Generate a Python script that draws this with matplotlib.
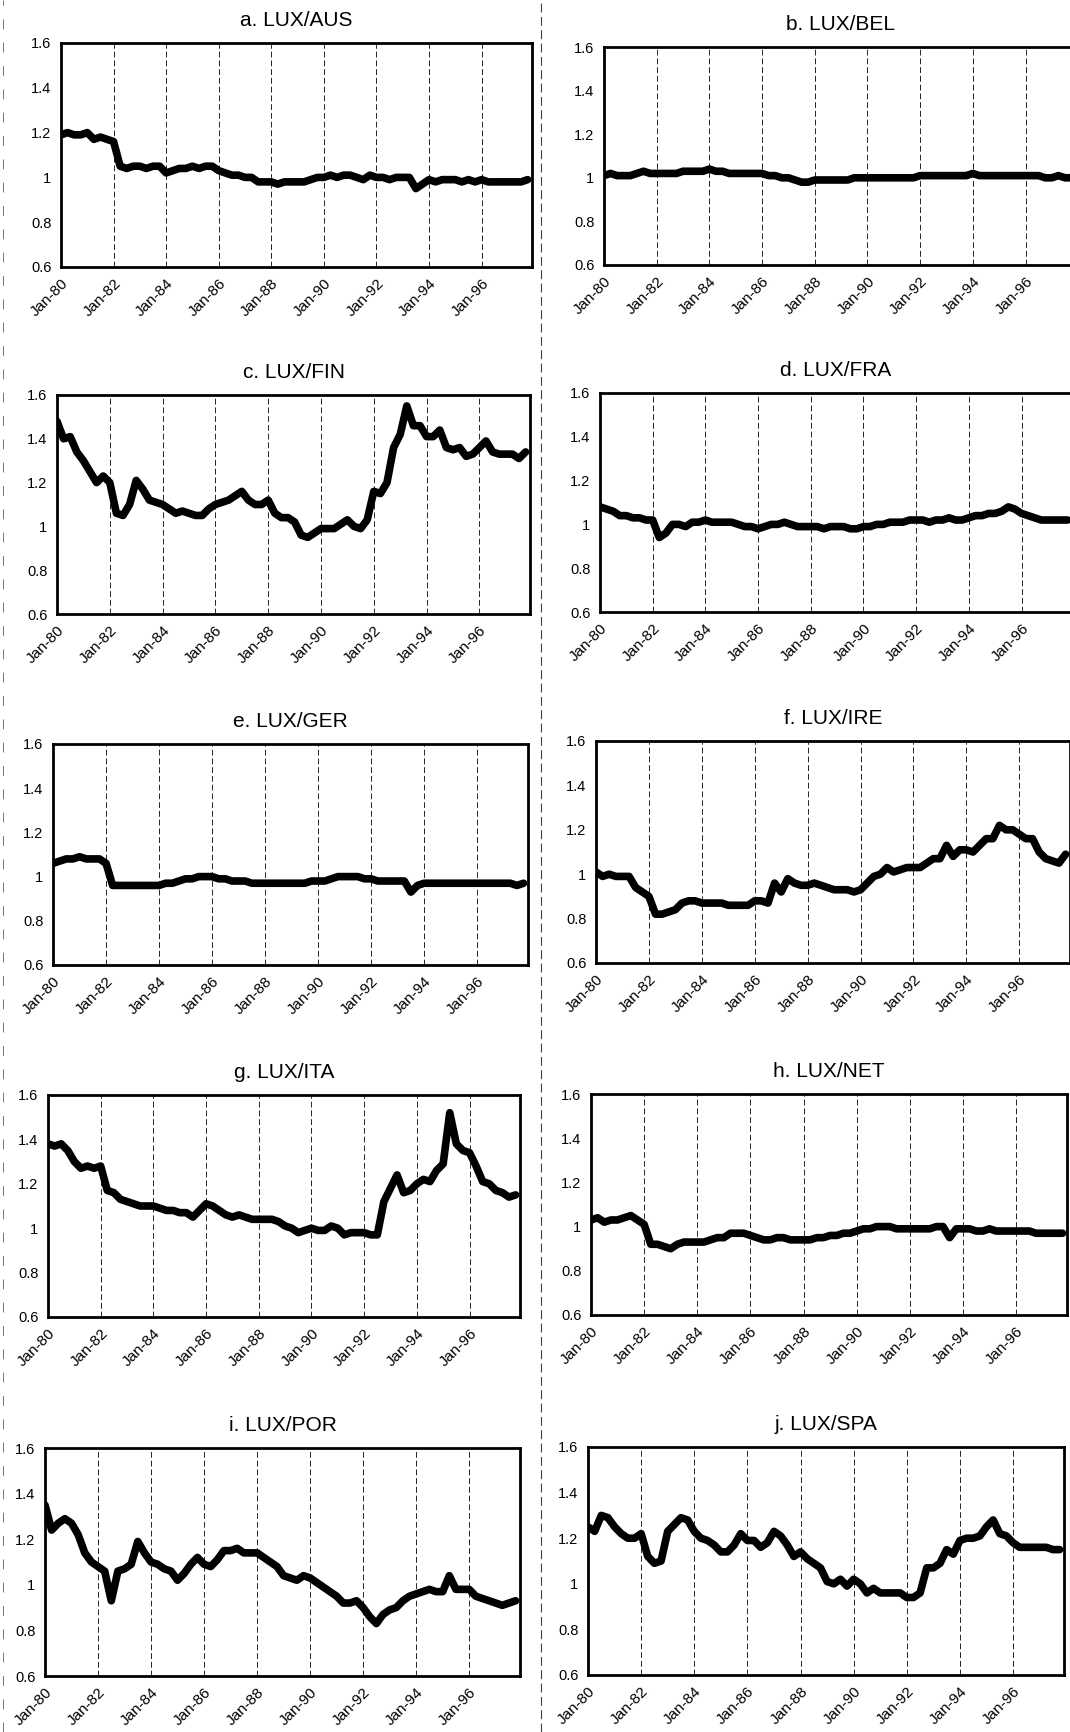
import matplotlib.pyplot as plt
import numpy as np
from matplotlib.lines import Line2D

plt.rcParams['font.family'] = ['Liberation Sans', 'DejaVu Sans']

# quarterly readings, months counted from Jan-80
months = np.arange(0, 216, 3)

tick_months = [0, 24, 48, 72, 96, 120, 144, 168, 192]
tick_labels = ['Jan-80', 'Jan-82', 'Jan-84', 'Jan-86', 'Jan-88',
               'Jan-90', 'Jan-92', 'Jan-94', 'Jan-96']
ytick_vals = [0.6, 0.8, 1.0, 1.2, 1.4, 1.6]
ytick_labels = ['0.6', '0.8', '1', '1.2', '1.4', '1.6']

titles = ['a. LUX/AUS', 'b. LUX/BEL', 'c. LUX/FIN', 'd. LUX/FRA', 'e. LUX/GER',
          'f. LUX/IRE', 'g. LUX/ITA', 'h. LUX/NET', 'i. LUX/POR', 'j. LUX/SPA']

aus = [1.19, 1.20, 1.19, 1.19,  1.20, 1.17, 1.18, 1.17,  1.16, 1.05, 1.04, 1.05,
       1.05, 1.04, 1.05, 1.05,  1.02, 1.03, 1.04, 1.04,  1.05, 1.04, 1.05, 1.05,
       1.03, 1.02, 1.01, 1.01,  1.00, 1.00, 0.98, 0.98,  0.98, 0.97, 0.98, 0.98,
       0.98, 0.98, 0.99, 1.00,  1.00, 1.01, 1.00, 1.01,  1.01, 1.00, 0.99, 1.01,
       1.00, 1.00, 0.99, 1.00,  1.00, 1.00, 0.95, 0.97,  0.99, 0.98, 0.99, 0.99,
       0.99, 0.98, 0.99, 0.98,  0.99, 0.98, 0.98, 0.98,  0.98, 0.98, 0.98, 0.99]

bel = [1.01, 1.02, 1.01, 1.01,  1.01, 1.02, 1.03, 1.02,  1.02, 1.02, 1.02, 1.02,
       1.03, 1.03, 1.03, 1.03,  1.04, 1.03, 1.03, 1.02,  1.02, 1.02, 1.02, 1.02,
       1.02, 1.01, 1.01, 1.00,  1.00, 0.99, 0.98, 0.98,  0.99, 0.99, 0.99, 0.99,
       0.99, 0.99, 1.00, 1.00,  1.00, 1.00, 1.00, 1.00,  1.00, 1.00, 1.00, 1.00,
       1.01, 1.01, 1.01, 1.01,  1.01, 1.01, 1.01, 1.01,  1.02, 1.01, 1.01, 1.01,
       1.01, 1.01, 1.01, 1.01,  1.01, 1.01, 1.01, 1.00,  1.00, 1.01, 1.00, 1.00]

fin = [1.48, 1.40, 1.41, 1.34,  1.30, 1.25, 1.20, 1.23,  1.20, 1.06, 1.05, 1.10,
       1.21, 1.17, 1.12, 1.11,  1.10, 1.08, 1.06, 1.07,  1.06, 1.05, 1.05, 1.08,
       1.10, 1.11, 1.12, 1.14,  1.16, 1.12, 1.10, 1.10,  1.12, 1.06, 1.04, 1.04,
       1.02, 0.96, 0.95, 0.97,  0.99, 0.99, 0.99, 1.01,  1.03, 1.00, 0.99, 1.03,
       1.16, 1.15, 1.20, 1.36,  1.42, 1.55, 1.46, 1.46,  1.41, 1.41, 1.44, 1.36,
       1.35, 1.36, 1.32, 1.33,  1.36, 1.39, 1.34, 1.33,  1.33, 1.33, 1.31, 1.34]

fra = [1.08, 1.07, 1.06, 1.04,  1.04, 1.03, 1.03, 1.02,  1.02, 0.94, 0.96, 1.00,
       1.00, 0.99, 1.01, 1.01,  1.02, 1.01, 1.01, 1.01,  1.01, 1.00, 0.99, 0.99,
       0.98, 0.99, 1.00, 1.00,  1.01, 1.00, 0.99, 0.99,  0.99, 0.99, 0.98, 0.99,
       0.99, 0.99, 0.98, 0.98,  0.99, 0.99, 1.00, 1.00,  1.01, 1.01, 1.01, 1.02,
       1.02, 1.02, 1.01, 1.02,  1.02, 1.03, 1.02, 1.02,  1.03, 1.04, 1.04, 1.05,
       1.05, 1.06, 1.08, 1.07,  1.05, 1.04, 1.03, 1.02,  1.02, 1.02, 1.02, 1.02]

ger = [1.06, 1.07, 1.08, 1.08,  1.09, 1.08, 1.08, 1.08,  1.06, 0.96, 0.96, 0.96,
       0.96, 0.96, 0.96, 0.96,  0.96, 0.97, 0.97, 0.98,  0.99, 0.99, 1.00, 1.00,
       1.00, 0.99, 0.99, 0.98,  0.98, 0.98, 0.97, 0.97,  0.97, 0.97, 0.97, 0.97,
       0.97, 0.97, 0.97, 0.98,  0.98, 0.98, 0.99, 1.00,  1.00, 1.00, 1.00, 0.99,
       0.99, 0.98, 0.98, 0.98,  0.98, 0.98, 0.93, 0.96,  0.97, 0.97, 0.97, 0.97,
       0.97, 0.97, 0.97, 0.97,  0.97, 0.97, 0.97, 0.97,  0.97, 0.97, 0.96, 0.97]

ire = [1.01, 0.99, 1.00, 0.99,  0.99, 0.99, 0.94, 0.92,  0.90, 0.82, 0.82, 0.83,
       0.84, 0.87, 0.88, 0.88,  0.87, 0.87, 0.87, 0.87,  0.86, 0.86, 0.86, 0.86,
       0.88, 0.88, 0.87, 0.96,  0.92, 0.98, 0.96, 0.95,  0.95, 0.96, 0.95, 0.94,
       0.93, 0.93, 0.93, 0.92,  0.93, 0.96, 0.99, 1.00,  1.03, 1.01, 1.02, 1.03,
       1.03, 1.03, 1.05, 1.07,  1.07, 1.13, 1.08, 1.11,  1.11, 1.10, 1.13, 1.16,
       1.16, 1.22, 1.20, 1.20,  1.18, 1.16, 1.16, 1.10,  1.07, 1.06, 1.05, 1.09]

ita = [1.38, 1.37, 1.38, 1.35,  1.30, 1.27, 1.28, 1.27,  1.28, 1.17, 1.16, 1.13,
       1.12, 1.11, 1.10, 1.10,  1.10, 1.09, 1.08, 1.08,  1.07, 1.07, 1.05, 1.08,
       1.11, 1.10, 1.08, 1.06,  1.05, 1.06, 1.05, 1.04,  1.04, 1.04, 1.04, 1.03,
       1.01, 1.00, 0.98, 0.99,  1.00, 0.99, 0.99, 1.01,  1.00, 0.97, 0.98, 0.98,
       0.98, 0.97, 0.97, 1.12,  1.18, 1.24, 1.16, 1.17,  1.20, 1.22, 1.21, 1.26,
       1.29, 1.52, 1.38, 1.35,  1.34, 1.28, 1.21, 1.20,  1.17, 1.16, 1.14, 1.15]

net = [1.03, 1.04, 1.02, 1.03,  1.03, 1.04, 1.05, 1.03,  1.01, 0.92, 0.92, 0.91,
       0.90, 0.92, 0.93, 0.93,  0.93, 0.93, 0.94, 0.95,  0.95, 0.97, 0.97, 0.97,
       0.96, 0.95, 0.94, 0.94,  0.95, 0.95, 0.94, 0.94,  0.94, 0.94, 0.95, 0.95,
       0.96, 0.96, 0.97, 0.97,  0.98, 0.99, 0.99, 1.00,  1.00, 1.00, 0.99, 0.99,
       0.99, 0.99, 0.99, 0.99,  1.00, 1.00, 0.95, 0.99,  0.99, 0.99, 0.98, 0.98,
       0.99, 0.98, 0.98, 0.98,  0.98, 0.98, 0.98, 0.97,  0.97, 0.97, 0.97, 0.97]

por = [1.35, 1.24, 1.27, 1.29,  1.27, 1.22, 1.14, 1.10,  1.08, 1.06, 0.93, 1.06,
       1.07, 1.09, 1.19, 1.14,  1.10, 1.09, 1.07, 1.06,  1.02, 1.05, 1.09, 1.12,
       1.09, 1.08, 1.11, 1.15,  1.15, 1.16, 1.14, 1.14,  1.14, 1.12, 1.10, 1.08,
       1.04, 1.03, 1.02, 1.04,  1.03, 1.01, 0.99, 0.97,  0.95, 0.92, 0.92, 0.93,
       0.90, 0.86, 0.83, 0.87,  0.89, 0.90, 0.93, 0.95,  0.96, 0.97, 0.98, 0.97,
       0.97, 1.04, 0.98, 0.98,  0.98, 0.95, 0.94, 0.93,  0.92, 0.91, 0.92, 0.93]

spa = [1.25, 1.23, 1.30, 1.29,  1.25, 1.22, 1.20, 1.20,  1.22, 1.12, 1.09, 1.10,
       1.23, 1.26, 1.29, 1.28,  1.23, 1.20, 1.19, 1.17,  1.14, 1.14, 1.17, 1.22,
       1.19, 1.19, 1.16, 1.18,  1.23, 1.21, 1.17, 1.12,  1.14, 1.11, 1.09, 1.07,
       1.01, 1.00, 1.02, 0.99,  1.02, 1.00, 0.96, 0.98,  0.96, 0.96, 0.96, 0.96,
       0.94, 0.94, 0.96, 1.07,  1.07, 1.09, 1.15, 1.13,  1.19, 1.20, 1.20, 1.21,
       1.25, 1.28, 1.22, 1.21,  1.18, 1.16, 1.16, 1.16,  1.16, 1.16, 1.15, 1.15]

series = [aus, bel, fin, fra, ger, ire, ita, net, por, spa]

# axes boxes in pixels of the 1070x1732 page: left, top, right, bottom
boxes = [(61, 43, 532, 267), (604, 47, 1076, 265),
         (57, 395, 530, 614), (600, 393, 1072, 612),
         (53, 744, 528, 965), (596, 741, 1070, 963),
         (48, 1095, 520, 1317), (591, 1094, 1067, 1315),
         (45, 1448, 520, 1676), (588, 1447, 1064, 1675)]

W, H = 1070, 1732
fig = plt.figure(figsize=(W / 100, H / 100), dpi=100)

for box, title, vals in zip(boxes, titles, series):
    l, t, r, b = box
    ax = fig.add_axes([l / W, 1 - b / H, (r - l) / W, (b - t) / H])
    ax.plot(months, vals, color='k', linewidth=5.5, solid_joinstyle='round',
            solid_capstyle='round')
    ax.set_xlim(0, 215)
    ax.set_ylim(0.6, 1.6)
    ax.set_xticks(tick_months)
    ax.set_xticklabels(tick_labels, rotation=45, ha='right',
                       rotation_mode='anchor', fontsize=11)
    ax.set_yticks(ytick_vals)
    ax.set_yticklabels(ytick_labels, fontsize=10.5)
    ax.tick_params(length=0, pad=7)
    ax.grid(axis='x', color='0.15', linewidth=0.7, linestyle=(0, (6, 3)))
    for s in ax.spines.values():
        s.set_linewidth(2)
    ax.set_title(title, fontsize=15, pad=12)

# page fold lines from the scan
fig.add_artist(Line2D([541 / W, 541 / W], [0, 1], color='0.25',
                      linewidth=0.8, linestyle=(0, (8, 4))))
fig.add_artist(Line2D([3 / W, 3 / W], [0, 1], color='0.45',
                      linewidth=0.7, linestyle=(0, (10, 14))))

fig.savefig('out.png', dpi=100)
